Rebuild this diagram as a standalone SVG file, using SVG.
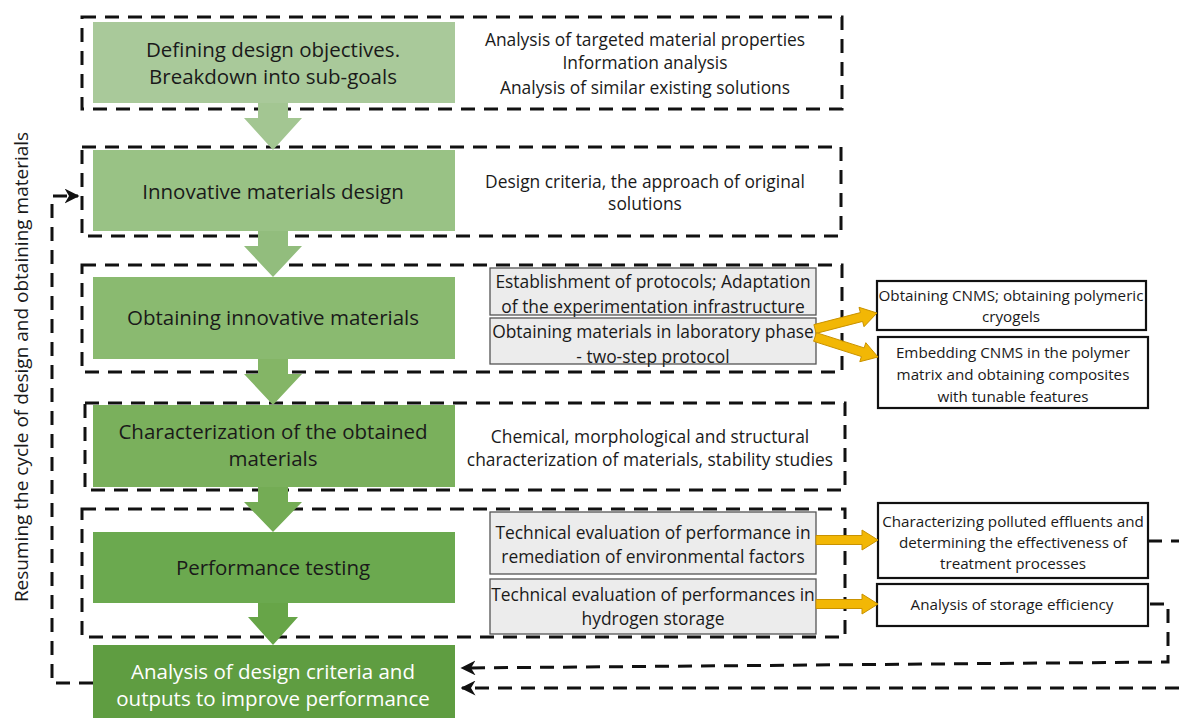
<svg xmlns="http://www.w3.org/2000/svg" width="1179" height="718" viewBox="0 0 1179 718">
  <defs>
    <style>
      .frame { fill: none; stroke: #111; stroke-width: 3; stroke-dasharray: 14 9; }
      .loop { fill: none; stroke: #111; stroke-width: 3; stroke-dasharray: 14 9; }
      .step-t { font-family: "Open Sans", "Liberation Sans", sans-serif; font-size: 20.5px; fill: #1a1a1a; text-anchor: middle; }
      .step-w { fill: #fff; }
      .note { font-family: "Open Sans", "Liberation Sans", sans-serif; font-size: 17.4px; fill: #1a1a1a; text-anchor: middle; }
      .out-t { font-family: "Open Sans", "Liberation Sans", sans-serif; font-size: 15.2px; fill: #1a1a1a; text-anchor: middle; }
      .sub { fill: #ececec; stroke: #555; stroke-width: 1.3; }
      .out { fill: #fff; stroke: #111; stroke-width: 2.2; }
      .gold { fill: #f2b705; stroke: #c99200; stroke-width: 1; }
    </style>
    <marker id="ah" viewBox="0 0 10 10" refX="9" refY="5" markerWidth="5" markerHeight="5" orient="auto">
      <path d="M0,0 L10,5 L0,10 L3,5 Z" fill="#111"/>
    </marker>
  </defs>

  <rect width="1179" height="718" fill="#fff"/>

  <!-- dashed stage frames -->
  <g id="frames">
    <rect class="frame" x="82" y="17" width="760" height="92"/>
    <rect class="frame" x="82" y="147" width="759" height="89"/>
    <rect class="frame" x="82" y="265" width="760" height="107"/>
    <rect class="frame" x="85" y="403" width="760" height="87"/>
    <rect class="frame" x="82" y="509" width="763" height="128"/>
  </g>

  <!-- block arrows between stages -->
  <g id="flow-arrows">
    <path d="M258,103 H288 V118 H302 L273,150 L244,118 H258 Z" fill="#a3c692"/>
    <path d="M258,231 H288 V246 H302 L273,277 L244,246 H258 Z" fill="#92bd7d"/>
    <path d="M258,359 H288 V374 H302 L273,405 L244,374 H258 Z" fill="#84b566"/>
    <path d="M258,487 H288 V502 H302 L273,532 L244,502 H258 Z" fill="#74ac55"/>
    <path d="M258,603 H288 V617 H298 L273,645 L248,617 H258 Z" fill="#67a548"/>
  </g>

  <!-- stages -->
  <g id="stage-1">
    <rect x="93" y="22" width="362" height="81" fill="#a9c99a"/>
    <text class="step-t" x="273" y="57">Defining design objectives.</text>
    <text class="step-t" x="273" y="84">Breakdown into sub-goals</text>
    <text class="note" x="645" y="46">Analysis of targeted material properties</text>
    <text class="note" x="645" y="69">Information analysis</text>
    <text class="note" x="645" y="94">Analysis of similar existing solutions</text>
  </g>

  <g id="stage-2">
    <rect x="93" y="150" width="362" height="81" fill="#99c285"/>
    <text class="step-t" x="273" y="199">Innovative materials design</text>
    <text class="note" x="645" y="188">Design criteria, the approach of original</text>
    <text class="note" x="645" y="210">solutions</text>
  </g>

  <g id="stage-3">
    <rect x="93" y="277" width="362" height="82" fill="#8aba70"/>
    <text class="step-t" x="273" y="325">Obtaining innovative materials</text>
    <rect class="sub" x="490" y="268" width="326" height="47"/>
    <text class="note" x="653" y="288">Establishment of protocols; Adaptation</text>
    <text class="note" x="653" y="313">of the experimentation infrastructure</text>
    <rect class="sub" x="490" y="318" width="326" height="46"/>
    <text class="note" x="653" y="338">Obtaining materials in laboratory phase</text>
    <text class="note" x="653" y="363">- two-step protocol</text>
  </g>

  <g id="stage-4">
    <rect x="93" y="405" width="362" height="82" fill="#7ab05c"/>
    <text class="step-t" x="273" y="439">Characterization of the obtained</text>
    <text class="step-t" x="273" y="466">materials</text>
    <text class="note" x="650" y="443">Chemical, morphological and structural</text>
    <text class="note" x="650" y="466">characterization of materials, stability studies</text>
  </g>

  <g id="stage-5">
    <rect x="93" y="532" width="362" height="71" fill="#6ba94f"/>
    <text class="step-t" x="273" y="575">Performance testing</text>
    <rect class="sub" x="490" y="512" width="326" height="62"/>
    <text class="note" x="653" y="539">Technical evaluation of performance in</text>
    <text class="note" x="653" y="563">remediation of environmental factors</text>
    <rect class="sub" x="490" y="579" width="326" height="55"/>
    <text class="note" x="653" y="601">Technical evaluation of performances in</text>
    <text class="note" x="653" y="625">hydrogen storage</text>
  </g>

  <g id="stage-6">
    <rect x="93" y="645" width="362" height="73" fill="#5f9d41"/>
    <text class="step-t step-w" x="273" y="679">Analysis of design criteria and</text>
    <text class="step-t step-w" x="273" y="706">outputs to improve performance</text>
  </g>

  <!-- outcome boxes -->
  <g id="out-cnms">
    <rect class="out" x="877" y="281" width="269" height="49"/>
    <text class="out-t" x="1011" y="301">Obtaining CNMS; obtaining polymeric</text>
    <text class="out-t" x="1011" y="322">cryogels</text>
  </g>
  <g id="out-composites">
    <rect class="out" x="878" y="337" width="270" height="71"/>
    <text class="out-t" x="1013" y="358">Embedding CNMS in the polymer</text>
    <text class="out-t" x="1013" y="380">matrix and obtaining composites</text>
    <text class="out-t" x="1013" y="402">with tunable features</text>
  </g>
  <g id="out-effluents">
    <rect class="out" x="878" y="503" width="270" height="75"/>
    <text class="out-t" x="1013" y="527">Characterizing polluted effluents and</text>
    <text class="out-t" x="1013" y="548">determining the effectiveness of</text>
    <text class="out-t" x="1013" y="569">treatment processes</text>
  </g>
  <g id="out-storage">
    <rect class="out" x="877" y="584" width="271" height="42"/>
    <text class="out-t" x="1012" y="610">Analysis of storage efficiency</text>
  </g>

  <!-- connectors -->
  <g id="connectors">
    <!-- gold block arrows to outcomes -->
    <path class="gold" d="M816.1,333.4 L862.6,321.4 L864,326.7 L877,313 L859,307.3 L860.4,312.6 L813.9,324.6 Z"/>
    <path class="gold" d="M813.6,341.3 L861.4,356.5 L859.8,361.7 L878,357 L865.8,342.7 L864.2,347.9 L816.4,332.7 Z"/>
    <path class="gold" d="M816,535.5 H862 V530 L878,540 L862,550 V544.5 H816 Z"/>
    <path class="gold" d="M816,599.5 H862 V594 L878,604 L862,614 V608.5 H816 Z"/>

    <!-- feedback loops -->
    <polyline class="loop" points="1148,541 1179,541"/>
    <polyline class="loop" points="1179,688 462,688" marker-end="url(#ah)"/>
    <polyline class="loop" points="1150,604 1168,604 1168,662 462,668" marker-end="url(#ah)"/>
    <polyline class="loop" points="93,683 52,683 52,196 78,196" marker-end="url(#ah)"/>
  </g>

  <text x="28" y="367" transform="rotate(-90 28 367)" font-family="'Open Sans', 'Liberation Sans', sans-serif" font-size="19" fill="#1a1a1a" text-anchor="middle">Resuming the cycle of design and obtaining materials</text>
</svg>
